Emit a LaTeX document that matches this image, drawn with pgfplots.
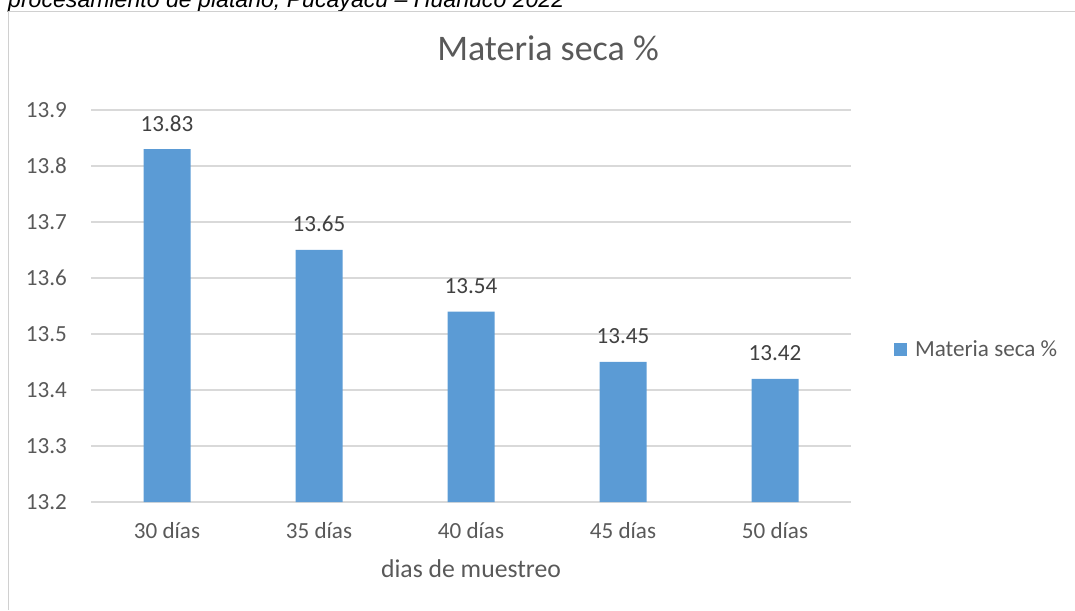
\documentclass[border=0pt]{standalone}
\usepackage{fontspec}
\setmainfont{Carlito}
\newfontfamily\captionfont{Liberation Sans}
\usepackage{pgfplots}
\usepackage{pgfplotstable}
\pgfplotsset{compat=1.18}
\definecolor{barblue}{HTML}{5B9BD5}
\definecolor{txtgray}{HTML}{595959}
\definecolor{lblgray}{HTML}{404040}
\definecolor{gridgray}{HTML}{D9D9D9}
\definecolor{framegray}{HTML}{D0D0D0}

% Dry matter content by sampling day
\pgfplotstableread{
x y lab
0 13.83 13.83
1 13.65 13.65
2 13.54 13.54
3 13.45 13.45
4 13.42 13.42
}\materia

\begin{document}
\begin{tikzpicture}[x=1pt,y=1pt]
\path[use as bounding box] (0,0) rectangle (1075,610);
\begin{scope}
  \clip (0,0) rectangle (1075,610);
  \node[anchor=base west, inner sep=0pt, font=\captionfont\itshape\fontsize{23.1}{27}\selectfont]
    at (8,602) {procesamiento de plátano, Pucayacu – Huánuco 2022};
\end{scope}
\draw[framegray, line width=1pt] (8,0) -- (8,598) -- (1075,598);
\begin{axis}[
  at={(91pt,108pt)}, anchor=south west,
  width=760pt, height=392pt, scale only axis,
  xmin=-0.5, xmax=4.5, ymin=13.2, ymax=13.9,
  xtick={0,1,2,3,4},
  xticklabels={30 días,35 días,40 días,45 días,50 días},
  ytick={13.2,13.3,13.4,13.5,13.6,13.7,13.8,13.9},
  ybar, bar width=47pt,
  axis line style={draw=none}, major tick length=0pt,
  ymajorgrids, grid style={gridgray, line width=1.3pt},
  tick label style={font=\fontsize{23.1}{27}\selectfont, text=txtgray},
  yticklabel style={anchor=east, inner sep=0pt, xshift=-24pt},
  xticklabel style={anchor=base, inner sep=0pt, yshift=-36pt},
  /pgf/number format/.cd, fixed, fixed zerofill, precision=1, assume math mode=true,
  /pgfplots/.cd,
  title={Materia seca \%},
  title style={at={(axis description cs:0.5,1)}, anchor=base, inner sep=0pt,
    yshift=43pt, xshift=77pt, font=\fontsize{36}{43}\selectfont, text=txtgray},
  xlabel={dias de muestreo},
  xlabel style={at={(axis description cs:0.5,0)}, anchor=base, inner sep=0pt,
    yshift=-75pt, font=\fontsize{25.7}{30}\selectfont, text=txtgray},
  nodes near coords, point meta=explicit symbolic,
  every node near coord/.append style={anchor=base, inner sep=0pt, yshift=18pt,
    font=\fontsize{23.1}{27}\selectfont, text=lblgray},
  legend image code/.code={\fill[barblue] (0pt,-6.5pt) rectangle (13pt,6.5pt);},
  legend style={at={(axis description cs:1.0566,0.389)}, anchor=west,
    draw=none, fill=none, inner sep=0pt, outer sep=0pt, column sep=8pt,
    nodes={inner sep=0pt}, font=\fontsize{23.1}{27}\selectfont, text=txtgray},
  clip=false,
]
\addplot[fill=barblue, draw=none] table[x=x, y=y, meta=lab] {\materia};
\addlegendentry{Materia seca \%}
\end{axis}
\end{tikzpicture}
\end{document}
